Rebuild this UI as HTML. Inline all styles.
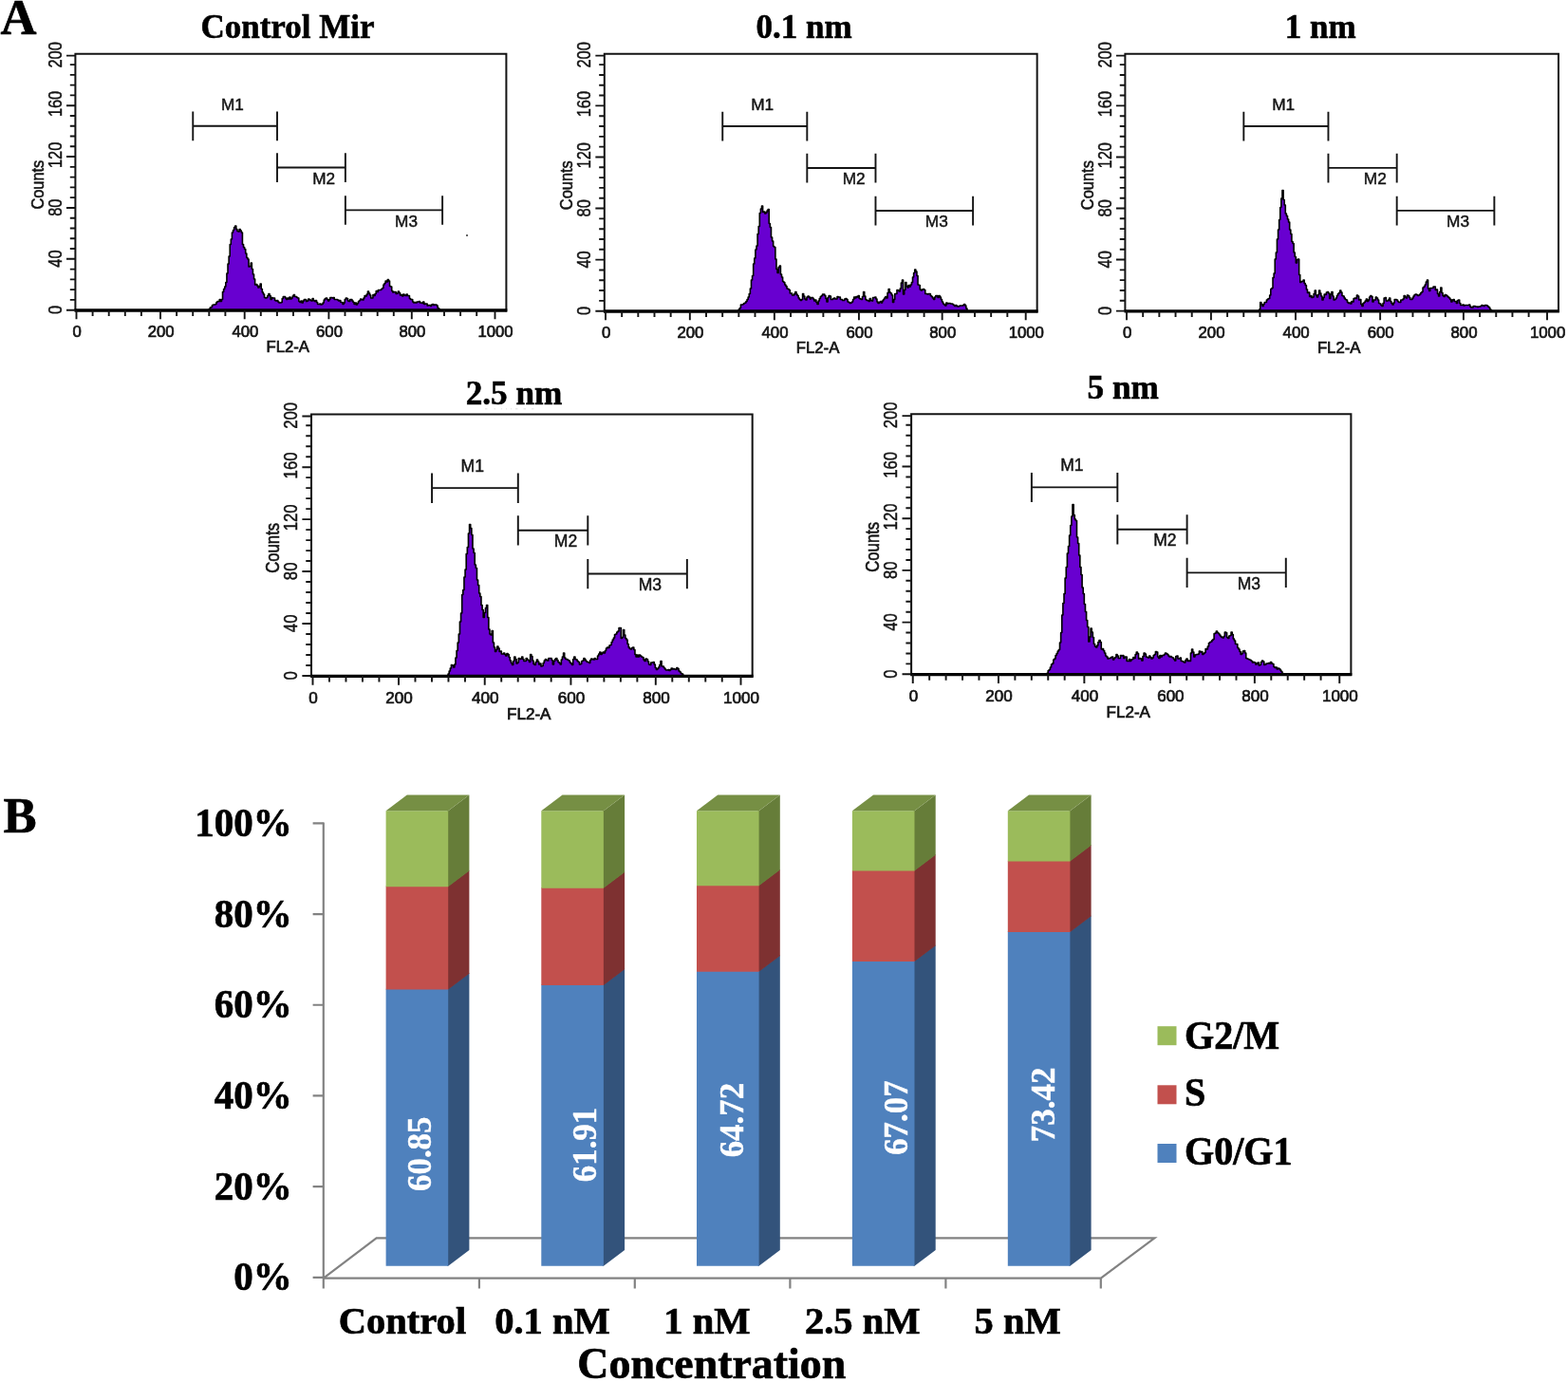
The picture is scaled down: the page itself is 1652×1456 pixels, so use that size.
<!DOCTYPE html>
<html lang="en"><head><meta charset="utf-8">
<title>Cell cycle analysis</title>
<style>html,body{margin:0;padding:0;background:#fff}body{width:1652px;height:1456px;overflow:hidden}svg{display:block}text{white-space:pre}</style>
</head><body>
<svg width="1652" height="1456" viewBox="0 0 1652 1456">
<rect width="1652" height="1456" fill="#fff"/>
<text x="0.4" y="35.6" font-family="'Liberation Serif','DejaVu Serif',serif" font-weight="700" font-size="52.6" fill="#000" stroke="#000" stroke-width="0.7">A</text>
<text x="3.6" y="876.9" font-family="'Liberation Serif','DejaVu Serif',serif" font-weight="700" font-size="52.6" fill="#000" stroke="#000" stroke-width="0.7">B</text>
<g class="plot">
<text x="303" y="39.8" text-anchor="middle" font-family="'Liberation Serif','DejaVu Serif',serif" font-weight="700" font-size="35" fill="#000" stroke="#000" stroke-width="0.6">Control Mir</text>
<g>
<path d="M220.23,326.7V325.5H221.33V324H222.43V323.5H223.53V321.5H224.63V321H225.73V321H226.83V320.5H227.93V318.5H229.03V317.5H230.13V317.5H231.23V315.5H232.33V317.5H233.43V315.5H234.53V307.5H235.63V304.5H236.73V302H237.83V297.5H238.93V288H240.03V278H241.13V270H242.23V257.5H243.33V252H244.43V245H245.53V242.5H246.63V239.5H247.73V238H248.83V241.5H249.93V243.5H251.03V244H252.13V241.5H253.23V243H254.33V245H255.43V257.5H256.53V260.5H257.63V262.5H258.73V267H259.83V271.5H260.93V273H262.03V281H263.13V280.5H264.23V277H265.33V283.5H266.43V289H267.53V294H268.63V300H269.73V299.5H270.83V301H271.93V303H273.03V301.5H274.13V299H275.23V304.5H276.33V308H277.43V310H278.53V313.5H279.63V314H280.73V313.5H281.83V311.5H282.93V309.5H284.03V311.5H285.13V315.5H286.23V313.5H287.33V314H288.43V314H289.53V316.5H290.63V317H291.73V316.5H292.83V318H293.93V319H295.03V319H296.13V318.5H297.23V314.5H298.33V312.5H299.43V312.5H300.53V314H301.63V315.5H302.73V314H303.83V315H304.93V313H306.03V315H307.13V314H308.23V312H309.33V310.5H310.43V312.5H311.53V312.5H312.63V313.5H313.73V314H314.83V317.5H315.93V318.5H317.03V317H318.13V319H319.23V317H320.33V315.5H321.43V315.5H322.53V317.5H323.63V317H324.73V315H325.83V315.5H326.93V316.5H328.03V317H329.13V314.5H330.23V316.5H331.33V317.5H332.43V316.5H333.53V318.5H334.63V320.5H335.73V320.5H336.83V320H337.93V321H339.03V320.5H340.13V319H341.23V316H342.33V314.5H343.43V314H344.53V315.5H345.63V317H346.73V315.5H347.83V313.5H348.93V313.5H350.03V314H351.13V313.5H352.23V315.5H353.33V315.5H354.43V315.5H355.53V316H356.63V317H357.73V316.5H358.83V318.5H359.93V318.5H361.03V320.5H362.13V319H363.23V315.5H364.33V314H365.43V314.5H366.53V317H367.63V317.5H368.73V315.5H369.83V315.5H370.93V317H372.03V318.5H373.13V320.5H374.23V319H375.33V321H376.43V319.5H377.53V317.5H378.63V316.5H379.73V315H380.83V315.5H381.93V316H383.03V314H384.13V311.5H385.23V312H386.33V310H387.43V307H388.53V309H389.63V311H390.73V314H391.83V314H392.93V310.5H394.03V311.5H395.13V309.5H396.23V306.5H397.33V307.5H398.43V305.5H399.53V305.5H400.63V305.5H401.73V304.5H402.83V303.5H403.93V300H405.03V298.5H406.13V296H407.23V297H408.33V294.5H409.43V296H410.53V301.5H411.63V302H412.73V306.5H413.83V308H414.93V307.5H416.03V307.5H417.13V309.5H418.23V309H419.33V307H420.43V308.5H421.53V311H422.63V310.5H423.73V312H424.83V310H425.93V311H427.03V311.5H428.13V310H429.23V311.5H430.33V311.5H431.43V314.5H432.53V315.5H433.63V315.5H434.73V318H435.83V319H436.93V318.5H438.03V319H439.13V318H440.23V318H441.33V317.5H442.43V319H443.53V319H444.63V319.5H445.73V318H446.83V320.5H447.93V320H449.03V320H450.13V322H451.23V321.5H452.33V321.5H453.43V322.5H454.53V321H455.63V320.5H456.73V321.5H457.83V321H458.93V321H460.03V322H461.13V324.5H462.23V325.5H463.33V325.7H463.38V326.7Z" fill="#6800d0" stroke="#000" stroke-width="1.6" stroke-linejoin="round"/>
<path d="M79.4,326.7 L79.4,56.7 L533.41,56.7 L533.41,328.2" fill="none" stroke="#141414" stroke-width="2"/>
<line x1="78.5" y1="327" x2="534.31" y2="327" stroke="#000" stroke-width="3.3"/>
<path d="M70,326.7 H79.4 M73.8,315.92 H79.4 M73.8,305.15 H79.4 M73.8,294.37 H79.4 M73.8,283.6 H79.4 M70,272.82 H79.4 M73.8,262.04 H79.4 M73.8,251.27 H79.4 M73.8,240.49 H79.4 M73.8,229.72 H79.4 M70,218.94 H79.4 M73.8,208.16 H79.4 M73.8,197.39 H79.4 M73.8,186.61 H79.4 M73.8,175.84 H79.4 M70,165.06 H79.4 M73.8,154.28 H79.4 M73.8,143.51 H79.4 M73.8,132.73 H79.4 M73.8,121.96 H79.4 M70,111.18 H79.4 M73.8,100.4 H79.4 M73.8,89.63 H79.4 M73.8,78.85 H79.4 M73.8,68.08 H79.4 M70,58.6 H79.4 M80.5,326.7 V336.3 M97.6,326.7 V333 M114.7,326.7 V333 M131.8,326.7 V333 M148.9,326.7 V333 M169,326.7 V336.3 M186.1,326.7 V333 M203.2,326.7 V333 M220.3,326.7 V333 M237.4,326.7 V333 M257.7,326.7 V336.3 M274.8,326.7 V333 M291.9,326.7 V333 M309,326.7 V333 M326.1,326.7 V333 M346.4,326.7 V336.3 M363.5,326.7 V333 M380.6,326.7 V333 M397.7,326.7 V333 M414.8,326.7 V333 M433.8,326.7 V336.3 M450.9,326.7 V333 M468,326.7 V333 M485.1,326.7 V333 M502.2,326.7 V333 M521.5,326.7 V336.3" fill="none" stroke="#141414" stroke-width="1.9"/>
<path d="M203.27,117.53 V148.13 M292,117.53 V148.13 M203.27,132.73 H292 M292,161.31 V191.91 M363.89,161.31 V191.91 M292,176.51 H363.89 M363.89,206.16 V236.76 M466.11,206.16 V236.76 M363.89,221.36 H466.11" fill="none" stroke="#141414" stroke-width="1.9"/>
<text x="244.99" y="115.83" text-anchor="middle" font-family="'Liberation Sans','DejaVu Sans',sans-serif" font-size="17.2" fill="#141414" stroke="#141414" stroke-width="0.45">M1</text>
<text x="341.13" y="193.81" text-anchor="middle" font-family="'Liberation Sans','DejaVu Sans',sans-serif" font-size="17.2" fill="#141414" stroke="#141414" stroke-width="0.45">M2</text>
<text x="428.01" y="238.66" text-anchor="middle" font-family="'Liberation Sans','DejaVu Sans',sans-serif" font-size="17.2" fill="#141414" stroke="#141414" stroke-width="0.45">M3</text>
<text x="81.1" y="354.7" text-anchor="middle" font-family="'Liberation Sans','DejaVu Sans',sans-serif" font-size="16.7" fill="#141414" stroke="#141414" stroke-width="0.7">0</text>
<text x="169.6" y="354.7" text-anchor="middle" font-family="'Liberation Sans','DejaVu Sans',sans-serif" font-size="16.7" fill="#141414" stroke="#141414" stroke-width="0.7">200</text>
<text x="258.3" y="354.7" text-anchor="middle" font-family="'Liberation Sans','DejaVu Sans',sans-serif" font-size="16.7" fill="#141414" stroke="#141414" stroke-width="0.7">400</text>
<text x="347" y="354.7" text-anchor="middle" font-family="'Liberation Sans','DejaVu Sans',sans-serif" font-size="16.7" fill="#141414" stroke="#141414" stroke-width="0.7">600</text>
<text x="434.4" y="354.7" text-anchor="middle" font-family="'Liberation Sans','DejaVu Sans',sans-serif" font-size="16.7" fill="#141414" stroke="#141414" stroke-width="0.7">800</text>
<text x="522.1" y="354.7" text-anchor="middle" font-family="'Liberation Sans','DejaVu Sans',sans-serif" font-size="16.7" fill="#141414" stroke="#141414" stroke-width="0.7">1000</text>
<text x="303.21" y="371.3" text-anchor="middle" font-family="'Liberation Sans','DejaVu Sans',sans-serif" font-size="16.7" fill="#141414" stroke="#141414" stroke-width="0.7">FL2-A</text>
<text transform="translate(64.7,326.5) rotate(-90) scale(0.98,1.19)" text-anchor="middle" font-family="'Liberation Sans','DejaVu Sans',sans-serif" font-size="16.7" fill="#141414" stroke="#141414" stroke-width="0.4">0</text>
<text transform="translate(64.7,272.62) rotate(-90) scale(0.98,1.19)" text-anchor="middle" font-family="'Liberation Sans','DejaVu Sans',sans-serif" font-size="16.7" fill="#141414" stroke="#141414" stroke-width="0.4">40</text>
<text transform="translate(64.7,218.74) rotate(-90) scale(0.98,1.19)" text-anchor="middle" font-family="'Liberation Sans','DejaVu Sans',sans-serif" font-size="16.7" fill="#141414" stroke="#141414" stroke-width="0.4">80</text>
<text transform="translate(64.7,163.36) rotate(-90) scale(0.98,1.19)" text-anchor="middle" font-family="'Liberation Sans','DejaVu Sans',sans-serif" font-size="16.7" fill="#141414" stroke="#141414" stroke-width="0.4">120</text>
<text transform="translate(64.7,109.48) rotate(-90) scale(0.98,1.19)" text-anchor="middle" font-family="'Liberation Sans','DejaVu Sans',sans-serif" font-size="16.7" fill="#141414" stroke="#141414" stroke-width="0.4">160</text>
<text transform="translate(64.7,57.9) rotate(-90) scale(0.98,1.19)" text-anchor="middle" font-family="'Liberation Sans','DejaVu Sans',sans-serif" font-size="16.7" fill="#141414" stroke="#141414" stroke-width="0.4">200</text>
<text transform="translate(46,194.69) rotate(-90) scale(0.98,1.14)" text-anchor="middle" font-family="'Liberation Sans','DejaVu Sans',sans-serif" font-size="16.7" fill="#141414" stroke="#141414" stroke-width="0.5">Counts</text>
<circle cx="492" cy="248" r="1" fill="#333"/>
</g></g>
<g class="plot">
<text x="847" y="40" text-anchor="middle" font-family="'Liberation Serif','DejaVu Serif',serif" font-weight="700" font-size="35" fill="#000" stroke="#000" stroke-width="0.6">0.1 nm</text>
<g>
<path d="M778.23,327.7V326H779.33V324.5H780.44V321H781.54V321H782.65V320.5H783.75V319.5H784.86V319H785.96V317.5H787.06V315.5H788.17V313H789.27V309.5H790.38V304H791.48V295H792.58V290.5H793.69V278H794.79V272H795.9V263H797V259H798.11V246.5H799.21V238.5H800.31V224.5H801.42V220H802.52V217H803.63V223.5H804.73V223H805.84V225H806.94V224H808.04V222H809.15V220.5H810.25V235.5H811.36V239.5H812.46V250H813.57V254H814.67V259.5H815.77V260.5H816.88V273H817.98V283.5H819.09V287.5H820.19V281.5H821.3V280H822.4V289H823.5V292H824.61V296.5H825.71V297.5H826.82V300H827.92V301.5H829.02V304H830.13V304.5H831.23V305.5H832.34V309H833.44V309H834.55V311H835.65V311H836.75V309.5H837.86V307.5H838.96V310H840.07V311.5H841.17V314H842.28V315.5H843.38V316.5H844.48V315.5H845.59V309.5H846.69V312H847.8V315H848.9V316H850.01V313H851.11V312H852.21V313H853.32V315H854.42V313.5H855.53V313.5H856.63V315H857.74V317H858.84V316H859.94V318.5H861.05V320.5H862.15V317H863.26V314.5H864.36V312.5H865.46V311.5H866.57V310H867.67V310H868.78V311.5H869.88V314.5H870.99V318H872.09V313.5H873.19V311.5H874.3V312H875.4V315.5H876.51V315.5H877.61V314.5H878.72V314H879.82V315H880.92V315H882.03V312.5H883.13V313H884.24V313H885.34V315.5H886.45V315.5H887.55V316.5H888.65V316.5H889.76V315H890.86V314.5H891.97V315.5H893.07V318H894.18V318.5H895.28V319.5H896.38V319H897.49V318H898.59V315.5H899.7V313H900.8V314H901.9V312.5H903.01V313H904.11V311.5H905.22V314.5H906.32V315H907.43V315.5H908.53V312.5H909.63V307.5H910.74V312H911.84V315.5H912.95V316.5H914.05V316.5H915.16V317.5H916.26V314.5H917.36V316.5H918.47V317H919.57V313.5H920.68V313.5H921.78V313H922.89V315H923.99V318H925.09V319.5H926.2V318.5H927.3V317.5H928.41V319H929.51V317H930.61V315.5H931.72V314H932.82V312.5H933.93V314H935.03V308.5H936.14V304.5H937.24V308H938.34V309H939.45V311H940.55V318.5H941.66V315.5H942.76V309.5H943.87V309.5H944.97V305.5H946.07V306H947.18V307H948.28V304H949.39V298H950.49V295H951.6V310H952.7V305.5H953.8V297.5H954.91V301.5H956.01V303H957.12V300.5H958.22V302H959.33V300H960.43V297.5H961.53V292H962.64V287.5H963.74V284H964.85V286H965.95V290.5H967.05V300H968.16V300.5H969.26V305H970.37V306H971.47V305H972.58V304.5H973.68V305.5H974.78V309.5H975.89V309.5H976.99V310H978.1V309.5H979.2V309.5H980.31V311.5H981.41V312.5H982.51V314H983.62V315.5H984.72V313H985.83V311.5H986.93V311.5H988.04V313.5H989.14V311.5H990.24V313H991.35V315.5H992.45V318H993.56V320H994.66V321H995.77V322H996.87V319H997.97V320H999.08V319.5H1000.18V319.5H1001.29V320H1002.39V320H1003.49V320.5H1004.6V321.5H1005.7V322.5H1006.81V321.5H1007.91V322.5H1009.02V323H1010.12V322.5H1011.22V322H1012.33V322H1013.43V322H1014.54V321.5H1015.64V320.5H1016.75V322H1017.85V325H1018.95V326.7H1019.02V327.7Z" fill="#6800d0" stroke="#000" stroke-width="1.61" stroke-linejoin="round"/>
<path d="M636.8,327.7 L636.8,56.7 L1092.65,56.7 L1092.65,329.21" fill="none" stroke="#141414" stroke-width="2.01"/>
<line x1="635.9" y1="328" x2="1093.56" y2="328" stroke="#000" stroke-width="3.31"/>
<path d="M627.36,327.7 H636.8 M631.18,316.88 H636.8 M631.18,306.07 H636.8 M631.18,295.25 H636.8 M631.18,284.44 H636.8 M627.36,273.62 H636.8 M631.18,262.8 H636.8 M631.18,251.99 H636.8 M631.18,241.17 H636.8 M631.18,230.36 H636.8 M627.36,219.54 H636.8 M631.18,208.72 H636.8 M631.18,197.91 H636.8 M631.18,187.09 H636.8 M631.18,176.28 H636.8 M627.36,165.46 H636.8 M631.18,154.64 H636.8 M631.18,143.83 H636.8 M631.18,133.01 H636.8 M631.18,122.2 H636.8 M627.36,111.38 H636.8 M631.18,100.56 H636.8 M631.18,89.75 H636.8 M631.18,78.93 H636.8 M631.18,68.12 H636.8 M627.36,58.61 H636.8 M638,327.7 V337.34 M655.17,327.7 V334.02 M672.33,327.7 V334.02 M689.5,327.7 V334.02 M706.66,327.7 V334.02 M726.84,327.7 V337.34 M744.01,327.7 V334.02 M761.17,327.7 V334.02 M778.34,327.7 V334.02 M795.5,327.7 V334.02 M815.88,327.7 V337.34 M833.05,327.7 V334.02 M850.21,327.7 V334.02 M867.38,327.7 V334.02 M884.55,327.7 V334.02 M904.93,327.7 V337.34 M922.09,327.7 V334.02 M939.26,327.7 V334.02 M956.42,327.7 V334.02 M973.59,327.7 V334.02 M992.66,327.7 V337.34 M1009.83,327.7 V334.02 M1026.99,327.7 V334.02 M1044.16,327.7 V334.02 M1061.33,327.7 V334.02 M1080.7,327.7 V337.34" fill="none" stroke="#141414" stroke-width="1.91"/>
<path d="M761.25,117.75 V148.47 M850.32,117.75 V148.47 M761.25,133.01 H850.32 M850.32,161.69 V192.41 M922.48,161.69 V192.41 M850.32,176.95 H922.48 M922.48,206.72 V237.43 M1025.1,206.72 V237.43 M922.48,221.97 H1025.1" fill="none" stroke="#141414" stroke-width="1.91"/>
<text x="803.13" y="116.05" text-anchor="middle" font-family="'Liberation Sans','DejaVu Sans',sans-serif" font-size="17.27" fill="#141414" stroke="#141414" stroke-width="0.45">M1</text>
<text x="899.64" y="194.32" text-anchor="middle" font-family="'Liberation Sans','DejaVu Sans',sans-serif" font-size="17.27" fill="#141414" stroke="#141414" stroke-width="0.45">M2</text>
<text x="986.85" y="239.34" text-anchor="middle" font-family="'Liberation Sans','DejaVu Sans',sans-serif" font-size="17.27" fill="#141414" stroke="#141414" stroke-width="0.45">M3</text>
<text x="638.6" y="355.81" text-anchor="middle" font-family="'Liberation Sans','DejaVu Sans',sans-serif" font-size="16.76" fill="#141414" stroke="#141414" stroke-width="0.7">0</text>
<text x="727.44" y="355.81" text-anchor="middle" font-family="'Liberation Sans','DejaVu Sans',sans-serif" font-size="16.76" fill="#141414" stroke="#141414" stroke-width="0.7">200</text>
<text x="816.49" y="355.81" text-anchor="middle" font-family="'Liberation Sans','DejaVu Sans',sans-serif" font-size="16.76" fill="#141414" stroke="#141414" stroke-width="0.7">400</text>
<text x="905.53" y="355.81" text-anchor="middle" font-family="'Liberation Sans','DejaVu Sans',sans-serif" font-size="16.76" fill="#141414" stroke="#141414" stroke-width="0.7">600</text>
<text x="993.26" y="355.81" text-anchor="middle" font-family="'Liberation Sans','DejaVu Sans',sans-serif" font-size="16.76" fill="#141414" stroke="#141414" stroke-width="0.7">800</text>
<text x="1081.3" y="355.81" text-anchor="middle" font-family="'Liberation Sans','DejaVu Sans',sans-serif" font-size="16.76" fill="#141414" stroke="#141414" stroke-width="0.7">1000</text>
<text x="861.56" y="372.47" text-anchor="middle" font-family="'Liberation Sans','DejaVu Sans',sans-serif" font-size="16.76" fill="#141414" stroke="#141414" stroke-width="0.7">FL2-A</text>
<text transform="translate(622.04,327.5) rotate(-90) scale(0.98,1.19)" text-anchor="middle" font-family="'Liberation Sans','DejaVu Sans',sans-serif" font-size="16.76" fill="#141414" stroke="#141414" stroke-width="0.4">0</text>
<text transform="translate(622.04,273.42) rotate(-90) scale(0.98,1.19)" text-anchor="middle" font-family="'Liberation Sans','DejaVu Sans',sans-serif" font-size="16.76" fill="#141414" stroke="#141414" stroke-width="0.4">40</text>
<text transform="translate(622.04,219.34) rotate(-90) scale(0.98,1.19)" text-anchor="middle" font-family="'Liberation Sans','DejaVu Sans',sans-serif" font-size="16.76" fill="#141414" stroke="#141414" stroke-width="0.4">80</text>
<text transform="translate(622.04,163.75) rotate(-90) scale(0.98,1.19)" text-anchor="middle" font-family="'Liberation Sans','DejaVu Sans',sans-serif" font-size="16.76" fill="#141414" stroke="#141414" stroke-width="0.4">120</text>
<text transform="translate(622.04,109.67) rotate(-90) scale(0.98,1.19)" text-anchor="middle" font-family="'Liberation Sans','DejaVu Sans',sans-serif" font-size="16.76" fill="#141414" stroke="#141414" stroke-width="0.4">160</text>
<text transform="translate(622.04,57.9) rotate(-90) scale(0.98,1.19)" text-anchor="middle" font-family="'Liberation Sans','DejaVu Sans',sans-serif" font-size="16.76" fill="#141414" stroke="#141414" stroke-width="0.4">200</text>
<text transform="translate(603.27,195.2) rotate(-90) scale(0.98,1.14)" text-anchor="middle" font-family="'Liberation Sans','DejaVu Sans',sans-serif" font-size="16.76" fill="#141414" stroke="#141414" stroke-width="0.5">Counts</text>
</g></g>
<g class="plot">
<text x="1391.2" y="39.6" text-anchor="middle" font-family="'Liberation Serif','DejaVu Serif',serif" font-weight="700" font-size="35" fill="#000" stroke="#000" stroke-width="0.6">1 nm</text>
<g>
<path d="M1326.66,327.6V326H1327.76V318.5H1328.87V320.5H1329.97V322.5H1331.08V320.5H1332.18V318.5H1333.29V318.5H1334.39V316H1335.5V315H1336.6V314.5H1337.71V311H1338.81V304.5H1339.92V303.5H1341.02V292.5H1342.13V288H1343.23V273H1344.34V266H1345.44V252H1346.55V242H1347.65V231.5H1348.76V218.5H1349.86V209H1350.97V200.5H1352.07V210.5H1353.18V216H1354.28V225H1355.39V227.5H1356.49V231H1357.6V234H1358.7V242H1359.81V246.5H1360.91V254.5H1362.02V256.5H1363.12V266H1364.23V270.5H1365.33V277H1366.44V273.5H1367.54V273H1368.65V289.5H1369.75V297.5H1370.86V296.5H1371.96V296.5H1373.07V295H1374.17V298.5H1375.28V300.5H1376.38V305H1377.49V308.5H1378.59V308H1379.7V312.5H1380.8V311.5H1381.91V313.5H1383.01V313H1384.12V309.5H1385.22V306H1386.33V311H1387.43V313H1388.54V310.5H1389.64V306H1390.75V309H1391.85V312H1392.96V316H1394.06V313.5H1395.17V310H1396.27V310.5H1397.38V308H1398.48V307.5H1399.59V309H1400.69V314.5H1401.8V310H1402.9V307.5H1404.01V312H1405.11V316H1406.22V315.5H1407.32V314H1408.43V311.5H1409.53V309.5H1410.64V308.5H1411.74V306H1412.85V308H1413.95V311.5H1415.06V312H1416.16V314H1417.27V315.5H1418.37V316H1419.48V318.5H1420.58V319.5H1421.68V319H1422.79V320H1423.89V317.5H1425V318H1426.1V314.5H1427.21V314H1428.31V314.5H1429.42V311H1430.52V312H1431.63V316H1432.73V315.5H1433.84V320.5H1434.94V322.5H1436.05V319.5H1437.15V318.5H1438.26V317H1439.36V315H1440.47V317.5H1441.57V316H1442.68V313H1443.78V311.5H1444.89V312.5H1445.99V318H1447.1V316H1448.2V316H1449.31V313H1450.41V314H1451.52V316H1452.62V319.5H1453.73V320H1454.83V321.5H1455.94V322.5H1457.04V319.5H1458.15V314H1459.25V313.5H1460.36V317H1461.46V317H1462.57V316H1463.67V314H1464.78V317.5H1465.88V319.5H1466.99V321H1468.09V319H1469.2V315.5H1470.3V315.5H1471.41V316H1472.51V317.5H1473.62V318.5H1474.72V318.5H1475.83V316H1476.93V316H1478.04V315H1479.14V311.5H1480.25V313H1481.35V314H1482.46V311H1483.56V311.5H1484.67V313.5H1485.77V315.5H1486.88V315.5H1487.98V314H1489.09V312H1490.19V310.5H1491.3V310H1492.4V310.5H1493.51V311.5H1494.61V311H1495.72V310H1496.82V308.5H1497.93V307.5H1499.03V303H1500.14V302H1501.24V300H1502.35V297H1503.45V295H1504.56V304H1505.66V306.5H1506.77V303.5H1507.87V303.5H1508.98V303.5H1510.08V302H1511.19V302H1512.29V305.5H1513.4V305H1514.5V309.5H1515.61V312H1516.71V307.5H1517.82V303H1518.92V308.5H1520.03V311.5H1521.13V312.5H1522.24V310.5H1523.34V311H1524.45V312H1525.55V313H1526.66V314H1527.76V315.5H1528.87V318H1529.97V316H1531.08V315.5H1532.18V317.5H1533.29V317.5H1534.39V319.5H1535.5V316.5H1536.6V316H1537.71V319.5H1538.81V321.5H1539.92V321.5H1541.02V321H1542.13V322H1543.23V321.5H1544.34V321.5H1545.44V321.5H1546.55V321.5H1547.65V321H1548.76V323H1549.86V324H1550.97V324H1552.07V322.5H1553.18V322.5H1554.28V323H1555.39V323H1556.49V323.5H1557.6V323H1558.7V323H1559.81V322.5H1560.91V321.5H1562.02V322H1563.12V322.5H1564.23V321.5H1565.33V321.5H1566.44V322H1567.54V323H1568.65V324H1569.75V326H1570.86V326.6H1571.38V327.6Z" fill="#6800d0" stroke="#000" stroke-width="1.61" stroke-linejoin="round"/>
<path d="M1185.4,327.6 L1185.4,56.7 L1641.96,56.7 L1641.96,329.11" fill="none" stroke="#141414" stroke-width="2.01"/>
<line x1="1184.5" y1="327.9" x2="1642.87" y2="327.9" stroke="#000" stroke-width="3.31"/>
<path d="M1175.96,327.6 H1185.4 M1179.77,316.79 H1185.4 M1179.77,305.98 H1185.4 M1179.77,295.16 H1185.4 M1179.77,284.35 H1185.4 M1175.96,273.54 H1185.4 M1179.77,262.73 H1185.4 M1179.77,251.92 H1185.4 M1179.77,241.1 H1185.4 M1179.77,230.29 H1185.4 M1175.96,219.48 H1185.4 M1179.77,208.67 H1185.4 M1179.77,197.86 H1185.4 M1179.77,187.04 H1185.4 M1179.77,176.23 H1185.4 M1175.96,165.42 H1185.4 M1179.77,154.61 H1185.4 M1179.77,143.8 H1185.4 M1179.77,132.98 H1185.4 M1179.77,122.17 H1185.4 M1175.96,111.36 H1185.4 M1179.77,100.55 H1185.4 M1179.77,89.74 H1185.4 M1179.77,78.92 H1185.4 M1179.77,68.11 H1185.4 M1175.96,58.61 H1185.4 M1187,327.6 V337.24 M1204.18,327.6 V333.93 M1221.36,327.6 V333.93 M1238.53,327.6 V333.93 M1255.71,327.6 V333.93 M1275.9,327.6 V337.24 M1293.08,327.6 V333.93 M1310.26,327.6 V333.93 M1327.43,327.6 V333.93 M1344.61,327.6 V333.93 M1365,327.6 V337.24 M1382.18,327.6 V333.93 M1399.36,327.6 V333.93 M1416.54,327.6 V333.93 M1433.71,327.6 V333.93 M1454.11,327.6 V337.24 M1471.28,327.6 V333.93 M1488.46,327.6 V333.93 M1505.64,327.6 V333.93 M1522.82,327.6 V333.93 M1541.9,327.6 V337.24 M1559.08,327.6 V333.93 M1576.26,327.6 V333.93 M1593.43,327.6 V333.93 M1610.61,327.6 V333.93 M1630,327.6 V337.24" fill="none" stroke="#141414" stroke-width="1.91"/>
<path d="M1310.33,117.72 V148.45 M1399.46,117.72 V148.45 M1310.33,132.98 H1399.46 M1399.46,161.64 V192.38 M1471.67,161.64 V192.38 M1399.46,176.91 H1471.67 M1471.67,206.64 V237.38 M1574.36,206.64 V237.38 M1471.67,221.91 H1574.36" fill="none" stroke="#141414" stroke-width="1.91"/>
<text x="1352.24" y="116.01" text-anchor="middle" font-family="'Liberation Sans','DejaVu Sans',sans-serif" font-size="17.28" fill="#141414" stroke="#141414" stroke-width="0.45">M1</text>
<text x="1448.81" y="194.29" text-anchor="middle" font-family="'Liberation Sans','DejaVu Sans',sans-serif" font-size="17.28" fill="#141414" stroke="#141414" stroke-width="0.45">M2</text>
<text x="1536.08" y="239.29" text-anchor="middle" font-family="'Liberation Sans','DejaVu Sans',sans-serif" font-size="17.28" fill="#141414" stroke="#141414" stroke-width="0.45">M3</text>
<text x="1187.6" y="355.73" text-anchor="middle" font-family="'Liberation Sans','DejaVu Sans',sans-serif" font-size="16.78" fill="#141414" stroke="#141414" stroke-width="0.7">0</text>
<text x="1276.5" y="355.73" text-anchor="middle" font-family="'Liberation Sans','DejaVu Sans',sans-serif" font-size="16.78" fill="#141414" stroke="#141414" stroke-width="0.7">200</text>
<text x="1365.61" y="355.73" text-anchor="middle" font-family="'Liberation Sans','DejaVu Sans',sans-serif" font-size="16.78" fill="#141414" stroke="#141414" stroke-width="0.7">400</text>
<text x="1454.71" y="355.73" text-anchor="middle" font-family="'Liberation Sans','DejaVu Sans',sans-serif" font-size="16.78" fill="#141414" stroke="#141414" stroke-width="0.7">600</text>
<text x="1542.5" y="355.73" text-anchor="middle" font-family="'Liberation Sans','DejaVu Sans',sans-serif" font-size="16.78" fill="#141414" stroke="#141414" stroke-width="0.7">800</text>
<text x="1630.6" y="355.73" text-anchor="middle" font-family="'Liberation Sans','DejaVu Sans',sans-serif" font-size="16.78" fill="#141414" stroke="#141414" stroke-width="0.7">1000</text>
<text x="1410.71" y="372.4" text-anchor="middle" font-family="'Liberation Sans','DejaVu Sans',sans-serif" font-size="16.78" fill="#141414" stroke="#141414" stroke-width="0.7">FL2-A</text>
<text transform="translate(1170.63,327.4) rotate(-90) scale(0.98,1.19)" text-anchor="middle" font-family="'Liberation Sans','DejaVu Sans',sans-serif" font-size="16.78" fill="#141414" stroke="#141414" stroke-width="0.4">0</text>
<text transform="translate(1170.63,273.34) rotate(-90) scale(0.98,1.19)" text-anchor="middle" font-family="'Liberation Sans','DejaVu Sans',sans-serif" font-size="16.78" fill="#141414" stroke="#141414" stroke-width="0.4">40</text>
<text transform="translate(1170.63,219.28) rotate(-90) scale(0.98,1.19)" text-anchor="middle" font-family="'Liberation Sans','DejaVu Sans',sans-serif" font-size="16.78" fill="#141414" stroke="#141414" stroke-width="0.4">80</text>
<text transform="translate(1170.63,163.71) rotate(-90) scale(0.98,1.19)" text-anchor="middle" font-family="'Liberation Sans','DejaVu Sans',sans-serif" font-size="16.78" fill="#141414" stroke="#141414" stroke-width="0.4">120</text>
<text transform="translate(1170.63,109.65) rotate(-90) scale(0.98,1.19)" text-anchor="middle" font-family="'Liberation Sans','DejaVu Sans',sans-serif" font-size="16.78" fill="#141414" stroke="#141414" stroke-width="0.4">160</text>
<text transform="translate(1170.63,57.9) rotate(-90) scale(0.98,1.19)" text-anchor="middle" font-family="'Liberation Sans','DejaVu Sans',sans-serif" font-size="16.78" fill="#141414" stroke="#141414" stroke-width="0.4">200</text>
<text transform="translate(1151.85,195.15) rotate(-90) scale(0.98,1.14)" text-anchor="middle" font-family="'Liberation Sans','DejaVu Sans',sans-serif" font-size="16.78" fill="#141414" stroke="#141414" stroke-width="0.5">Counts</text>
</g></g>
<g class="plot">
<text x="541.5" y="425.7" text-anchor="middle" font-family="'Liberation Serif','DejaVu Serif',serif" font-weight="700" font-size="35.2" fill="#000" stroke="#000" stroke-width="0.6">2.5 nm</text>
<g>
<path d="M472.08,712V710H473.21V707H474.33V704H475.46V700.5H476.58V701H477.71V703H478.83V700H479.96V693H481.08V685.5H482.21V677H483.33V668H484.46V655H485.58V646H486.71V626.5H487.83V621.5H488.96V608H490.08V600H491.21V583.5H492.33V576.5H493.46V562H494.58V552.5H495.71V556.5H496.83V563.5H497.96V578H499.08V582.5H500.21V595H501.33V598.5H502.46V611H503.58V616.5H504.71V625H505.83V628.5H506.96V637.5H508.08V642.5H509.21V650.5H510.33V645.5H511.46V640.5H512.58V637.5H513.71V650.5H514.83V663H515.95V668H517.08V669H518.2V664.5H519.33V677H520.45V682H521.58V686.5H522.7V684.5H523.83V681H524.95V683H526.08V686.5H527.2V686H528.33V689H529.45V689H530.58V688H531.7V689.5H532.83V691H533.95V688.5H535.08V689.5H536.2V692.5H537.33V696H538.45V698.5H539.58V700.5H540.7V696.5H541.83V692H542.95V694.5H544.08V699H545.2V698H546.33V693.5H547.45V694.5H548.58V694H549.7V692H550.83V694.5H551.95V696.5H553.08V696.5H554.2V693.5H555.33V695H556.45V695.5H557.58V697.5H558.7V689.5H559.83V691.5H560.95V696H562.08V699.5H563.2V700.5H564.33V697.5H565.45V695H566.58V697H567.7V700H568.83V699H569.95V702H571.08V701.5H572.2V698.5H573.33V696H574.45V694.5H575.58V695.5H576.7V696H577.83V693.5H578.95V693.5H580.08V693.5H581.2V695.5H582.33V700H583.45V696.5H584.58V694.5H585.7V693.5H586.83V695.5H587.95V697.5H589.08V698.5H590.2V700H591.33V695H592.45V692H593.58V688H594.7V693H595.83V694.5H596.95V694.5H598.08V695.5H599.2V696H600.33V698H601.45V699H602.58V700.5H603.7V694.5H604.83V692H605.95V694.5H607.08V695H608.2V696.5H609.33V697.5H610.45V700H611.58V699.5H612.7V696.5H613.83V696H614.95V693.5H616.07V695H617.2V696.5H618.32V697.5H619.45V697.5H620.57V698.5H621.7V695.5H622.82V694H623.95V694.5H625.07V695H626.2V693.5H627.32V694.5H628.45V694.5H629.57V691H630.7V689H631.82V687H632.95V689.5H634.07V688H635.2V687H636.32V688H637.45V685.5H638.57V683H639.7V682H640.82V682.5H641.95V680H643.07V679.5H644.2V676.5H645.32V674H646.45V672H647.57V668.5H648.7V668H649.82V666H650.95V665H652.07V661.5H653.2V661.5H654.32V672.5H655.45V671.5H656.57V663.5H657.7V669H658.82V672.5H659.95V674H661.07V678.5H662.2V682H663.32V683.5H664.45V684H665.57V682.5H666.7V682H667.82V684.5H668.95V689.5H670.07V692H671.2V690H672.32V692H673.45V690H674.57V691H675.7V692H676.82V692.5H677.95V695H679.07V696.5H680.2V694H681.32V694.5H682.45V697H683.57V700H684.7V700.5H685.82V698H686.95V698H688.07V697.5H689.2V700H690.32V703.5H691.45V705.5H692.57V704.5H693.7V703H694.82V700.5H695.95V696.5H697.07V702H698.2V702H699.32V703.5H700.45V705H701.57V706H702.7V706H703.82V705.5H704.95V706.5H706.07V705.5H707.2V704H708.32V705H709.45V704.5H710.57V705H711.7V705.5H712.82V703.5H713.94V704.5H715.07V707H716.19V708H717.32V709.5H718.44V710H719.57V711H719.96V712Z" fill="#6800d0" stroke="#000" stroke-width="1.64" stroke-linejoin="round"/>
<path d="M328,712 L328,436.59 L792.68,436.59 L792.68,713.53" fill="none" stroke="#141414" stroke-width="2.05"/>
<line x1="327.08" y1="712.31" x2="793.6" y2="712.31" stroke="#000" stroke-width="3.37"/>
<path d="M318.39,712 H328 M322.27,701.01 H328 M322.27,690.02 H328 M322.27,679.02 H328 M322.27,668.03 H328 M318.39,657.04 H328 M322.27,646.05 H328 M322.27,635.06 H328 M322.27,624.06 H328 M322.27,613.07 H328 M318.39,602.08 H328 M322.27,591.09 H328 M322.27,580.1 H328 M322.27,569.1 H328 M322.27,558.11 H328 M318.39,547.12 H328 M322.27,536.13 H328 M322.27,525.14 H328 M322.27,514.14 H328 M322.27,503.15 H328 M318.39,492.16 H328 M322.27,481.17 H328 M322.27,470.18 H328 M322.27,459.18 H328 M322.27,448.19 H328 M318.39,438.53 H328 M329.5,712 V721.82 M346.99,712 V718.44 M364.48,712 V718.44 M381.96,712 V718.44 M399.45,712 V718.44 M420.01,712 V721.82 M437.49,712 V718.44 M454.98,712 V718.44 M472.47,712 V718.44 M489.96,712 V718.44 M510.72,712 V721.82 M528.21,712 V718.44 M545.69,712 V718.44 M563.18,712 V718.44 M580.67,712 V718.44 M601.43,712 V721.82 M618.92,712 V718.44 M636.4,712 V718.44 M653.89,712 V718.44 M671.38,712 V718.44 M690.81,712 V721.82 M708.3,712 V718.44 M725.79,712 V718.44 M743.27,712 V718.44 M760.76,712 V718.44 M780.5,712 V721.82" fill="none" stroke="#141414" stroke-width="1.94"/>
<path d="M455.06,498.6 V529.89 M545.8,498.6 V529.89 M455.06,514.14 H545.8 M545.8,543.25 V574.55 M619.31,543.25 V574.55 M545.8,558.8 H619.31 M619.31,589.01 V620.3 M723.85,589.01 V620.3 M619.31,604.55 H723.85" fill="none" stroke="#141414" stroke-width="1.94"/>
<text x="497.72" y="496.86" text-anchor="middle" font-family="'Liberation Sans','DejaVu Sans',sans-serif" font-size="17.59" fill="#141414" stroke="#141414" stroke-width="0.46">M1</text>
<text x="596.04" y="576.49" text-anchor="middle" font-family="'Liberation Sans','DejaVu Sans',sans-serif" font-size="17.59" fill="#141414" stroke="#141414" stroke-width="0.46">M2</text>
<text x="684.89" y="622.25" text-anchor="middle" font-family="'Liberation Sans','DejaVu Sans',sans-serif" font-size="17.59" fill="#141414" stroke="#141414" stroke-width="0.46">M3</text>
<text x="330.11" y="740.63" text-anchor="middle" font-family="'Liberation Sans','DejaVu Sans',sans-serif" font-size="17.08" fill="#141414" stroke="#141414" stroke-width="0.72">0</text>
<text x="420.62" y="740.63" text-anchor="middle" font-family="'Liberation Sans','DejaVu Sans',sans-serif" font-size="17.08" fill="#141414" stroke="#141414" stroke-width="0.72">200</text>
<text x="511.33" y="740.63" text-anchor="middle" font-family="'Liberation Sans','DejaVu Sans',sans-serif" font-size="17.08" fill="#141414" stroke="#141414" stroke-width="0.72">400</text>
<text x="602.04" y="740.63" text-anchor="middle" font-family="'Liberation Sans','DejaVu Sans',sans-serif" font-size="17.08" fill="#141414" stroke="#141414" stroke-width="0.72">600</text>
<text x="691.42" y="740.63" text-anchor="middle" font-family="'Liberation Sans','DejaVu Sans',sans-serif" font-size="17.08" fill="#141414" stroke="#141414" stroke-width="0.72">800</text>
<text x="781.11" y="740.63" text-anchor="middle" font-family="'Liberation Sans','DejaVu Sans',sans-serif" font-size="17.08" fill="#141414" stroke="#141414" stroke-width="0.72">1000</text>
<text x="557.25" y="757.61" text-anchor="middle" font-family="'Liberation Sans','DejaVu Sans',sans-serif" font-size="17.08" fill="#141414" stroke="#141414" stroke-width="0.72">FL2-A</text>
<text transform="translate(312.97,711.8) rotate(-90) scale(0.98,1.19)" text-anchor="middle" font-family="'Liberation Sans','DejaVu Sans',sans-serif" font-size="17.08" fill="#141414" stroke="#141414" stroke-width="0.41">0</text>
<text transform="translate(312.97,656.84) rotate(-90) scale(0.98,1.19)" text-anchor="middle" font-family="'Liberation Sans','DejaVu Sans',sans-serif" font-size="17.08" fill="#141414" stroke="#141414" stroke-width="0.41">40</text>
<text transform="translate(312.97,601.88) rotate(-90) scale(0.98,1.19)" text-anchor="middle" font-family="'Liberation Sans','DejaVu Sans',sans-serif" font-size="17.08" fill="#141414" stroke="#141414" stroke-width="0.41">80</text>
<text transform="translate(312.97,545.38) rotate(-90) scale(0.98,1.19)" text-anchor="middle" font-family="'Liberation Sans','DejaVu Sans',sans-serif" font-size="17.08" fill="#141414" stroke="#141414" stroke-width="0.41">120</text>
<text transform="translate(312.97,490.42) rotate(-90) scale(0.98,1.19)" text-anchor="middle" font-family="'Liberation Sans','DejaVu Sans',sans-serif" font-size="17.08" fill="#141414" stroke="#141414" stroke-width="0.41">160</text>
<text transform="translate(312.97,437.81) rotate(-90) scale(0.98,1.19)" text-anchor="middle" font-family="'Liberation Sans','DejaVu Sans',sans-serif" font-size="17.08" fill="#141414" stroke="#141414" stroke-width="0.41">200</text>
<text transform="translate(293.84,577.35) rotate(-90) scale(0.98,1.14)" text-anchor="middle" font-family="'Liberation Sans','DejaVu Sans',sans-serif" font-size="17.08" fill="#141414" stroke="#141414" stroke-width="0.51">Counts</text>
<path d="M511,430.8 H577" fill="none" stroke="#dedede" stroke-width="1" stroke-dasharray="2.5 7 1.5 6 1 4 1 4 1 4 2.5 6 2.5 6 2.5 100"/>
</g></g>
<g class="plot">
<text x="1183.2" y="420" text-anchor="middle" font-family="'Liberation Serif','DejaVu Serif',serif" font-weight="700" font-size="35.2" fill="#000" stroke="#000" stroke-width="0.6">5 nm</text>
<g>
<path d="M1103.08,710.3V709.3H1104.2V706.5H1105.32V705.5H1106.45V703H1107.57V700H1108.69V699H1109.81V695H1110.93V694H1112.05V690.5H1113.17V688.5H1114.29V686H1115.42V684.5H1116.54V677H1117.66V666.5H1118.78V648H1119.9V635.5H1121.02V625.5H1122.14V609H1123.26V597.5H1124.38V583H1125.51V575.5H1126.63V564H1127.75V553.5H1128.87V544H1129.99V531.5H1131.11V542.5H1132.23V547H1133.35V548.5H1134.48V566H1135.6V572.5H1136.72V585H1137.84V597.5H1138.96V605.5H1140.08V619H1141.2V625.5H1142.32V636.5H1143.45V644.5H1144.57V653.5H1145.69V660.5H1146.81V676H1147.93V671H1149.05V662H1150.17V666H1151.29V671.5H1152.42V678.5H1153.54V681H1154.66V682H1155.78V680H1156.9V676.5H1158.02V674.5H1159.14V676.5H1160.26V684H1161.38V683.5H1162.51V685.5H1163.63V688H1164.75V691H1165.87V692H1166.99V694H1168.11V693.5H1169.23V693.5H1170.35V692.5H1171.48V692H1172.6V695H1173.72V693.5H1174.84V692.5H1175.96V689.5H1177.08V691H1178.2V693.5H1179.32V693.5H1180.45V690.5H1181.57V691H1182.69V690.5H1183.81V693.5H1184.93V692H1186.05V692H1187.17V696.5H1188.29V696.5H1189.41V694.5H1190.54V696.5H1191.66V695H1192.78V694.5H1193.9V692.5H1195.02V693.5H1196.14V689.5H1197.26V687H1198.38V688.5H1199.51V694H1200.63V693.5H1201.75V694H1202.87V696H1203.99V691.5H1205.11V688H1206.23V689H1207.35V692H1208.48V692.5H1209.6V693H1210.72V691H1211.84V692.5H1212.96V694H1214.08V693H1215.2V690.5H1216.32V689.5H1217.44V686.5H1218.57V687H1219.69V692H1220.81V693.5H1221.93V690.5H1223.05V692H1224.17V690.5H1225.29V690.5H1226.41V689.5H1227.54V688H1228.66V688.5H1229.78V689.5H1230.9V691H1232.02V692H1233.14V691.5H1234.26V692.5H1235.38V693H1236.51V694.5H1237.63V696H1238.75V691.5H1239.87V691H1240.99V694H1242.11V694H1243.23V693H1244.35V696.5H1245.47V696.5H1246.6V697.5H1247.72V698H1248.84V695.5H1249.96V694H1251.08V696.5H1252.2V696H1253.32V696.5H1254.44V688H1255.57V684H1256.69V687H1257.81V692H1258.93V690H1260.05V689.5H1261.17V689.5H1262.29V689H1263.41V686H1264.54V687H1265.66V686.5H1266.78V689.5H1267.9V688.5H1269.02V687.5H1270.14V683.5H1271.26V684H1272.38V681H1273.5V677.5H1274.63V676.5H1275.75V676H1276.87V674.5H1277.99V673.5H1279.11V667.5H1280.23V667H1281.35V665H1282.47V666.5H1283.6V667.5H1284.72V669H1285.84V670.5H1286.96V671.5H1288.08V672H1289.2V670.5H1290.32V666H1291.44V666.5H1292.57V671.5H1293.69V672.5H1294.81V670H1295.93V669.5H1297.05V666H1298.17V668.5H1299.29V673H1300.41V675H1301.53V678.5H1302.66V678.5H1303.78V682.5H1304.9V684H1306.02V686.5H1307.14V689.5H1308.26V688.5H1309.38V686H1310.5V685.5H1311.63V688H1312.75V693.5H1313.87V694H1314.99V694.5H1316.11V695H1317.23V695.5H1318.35V696.5H1319.47V698H1320.6V697.5H1321.72V698H1322.84V700H1323.96V699H1325.08V698H1326.2V701H1327.32V700.5H1328.44V697.5H1329.56V696H1330.69V697H1331.81V700.5H1332.93V700H1334.05V699H1335.17V699H1336.29V698.5H1337.41V699H1338.53V697.5H1339.66V699H1340.78V699.5H1341.9V702.5H1343.02V703.5H1344.14V703H1345.26V705H1346.38V704H1347.5V704.5H1348.63V706H1349.75V707.5H1350.87V709.3H1351.74V710.3Z" fill="#6800d0" stroke="#000" stroke-width="1.63" stroke-linejoin="round"/>
<path d="M960.1,710.3 L960.1,436.19 L1423.39,436.19 L1423.39,711.83" fill="none" stroke="#141414" stroke-width="2.04"/>
<line x1="959.18" y1="710.61" x2="1424.3" y2="710.61" stroke="#000" stroke-width="3.36"/>
<path d="M950.52,710.3 H960.1 M954.39,699.36 H960.1 M954.39,688.42 H960.1 M954.39,677.48 H960.1 M954.39,666.54 H960.1 M950.52,655.6 H960.1 M954.39,644.66 H960.1 M954.39,633.72 H960.1 M954.39,622.78 H960.1 M954.39,611.84 H960.1 M950.52,600.9 H960.1 M954.39,589.96 H960.1 M954.39,579.02 H960.1 M954.39,568.08 H960.1 M954.39,557.14 H960.1 M950.52,546.2 H960.1 M954.39,535.26 H960.1 M954.39,524.32 H960.1 M954.39,513.38 H960.1 M954.39,502.44 H960.1 M950.52,491.5 H960.1 M954.39,480.56 H960.1 M954.39,469.62 H960.1 M954.39,458.68 H960.1 M954.39,447.74 H960.1 M950.52,438.13 H960.1 M961.75,710.3 V720.09 M979.18,710.3 V716.72 M996.61,710.3 V716.72 M1014.04,710.3 V716.72 M1031.47,710.3 V716.72 M1051.96,710.3 V720.09 M1069.39,710.3 V716.72 M1086.81,710.3 V716.72 M1104.24,710.3 V716.72 M1121.67,710.3 V716.72 M1142.37,710.3 V720.09 M1159.8,710.3 V716.72 M1177.22,710.3 V716.72 M1194.65,710.3 V716.72 M1212.08,710.3 V716.72 M1232.78,710.3 V720.09 M1250.2,710.3 V716.72 M1267.63,710.3 V716.72 M1285.06,710.3 V716.72 M1302.49,710.3 V716.72 M1321.86,710.3 V720.09 M1339.29,710.3 V716.72 M1356.72,710.3 V716.72 M1374.15,710.3 V716.72 M1391.58,710.3 V716.72 M1411.25,710.3 V720.09" fill="none" stroke="#141414" stroke-width="1.94"/>
<path d="M1086.89,497.89 V529.08 M1177.33,497.89 V529.08 M1086.89,513.38 H1177.33 M1177.33,542.33 V573.52 M1250.6,542.33 V573.52 M1177.33,557.82 H1250.6 M1250.6,587.87 V619.06 M1354.79,587.87 V619.06 M1250.6,603.36 H1354.79" fill="none" stroke="#141414" stroke-width="1.94"/>
<text x="1129.41" y="496.15" text-anchor="middle" font-family="'Liberation Sans','DejaVu Sans',sans-serif" font-size="17.53" fill="#141414" stroke="#141414" stroke-width="0.46">M1</text>
<text x="1227.4" y="575.46" text-anchor="middle" font-family="'Liberation Sans','DejaVu Sans',sans-serif" font-size="17.53" fill="#141414" stroke="#141414" stroke-width="0.46">M2</text>
<text x="1315.96" y="620.99" text-anchor="middle" font-family="'Liberation Sans','DejaVu Sans',sans-serif" font-size="17.53" fill="#141414" stroke="#141414" stroke-width="0.46">M3</text>
<text x="962.36" y="738.84" text-anchor="middle" font-family="'Liberation Sans','DejaVu Sans',sans-serif" font-size="17.02" fill="#141414" stroke="#141414" stroke-width="0.71">0</text>
<text x="1052.57" y="738.84" text-anchor="middle" font-family="'Liberation Sans','DejaVu Sans',sans-serif" font-size="17.02" fill="#141414" stroke="#141414" stroke-width="0.71">200</text>
<text x="1142.98" y="738.84" text-anchor="middle" font-family="'Liberation Sans','DejaVu Sans',sans-serif" font-size="17.02" fill="#141414" stroke="#141414" stroke-width="0.71">400</text>
<text x="1233.39" y="738.84" text-anchor="middle" font-family="'Liberation Sans','DejaVu Sans',sans-serif" font-size="17.02" fill="#141414" stroke="#141414" stroke-width="0.71">600</text>
<text x="1322.47" y="738.84" text-anchor="middle" font-family="'Liberation Sans','DejaVu Sans',sans-serif" font-size="17.02" fill="#141414" stroke="#141414" stroke-width="0.71">800</text>
<text x="1411.86" y="738.84" text-anchor="middle" font-family="'Liberation Sans','DejaVu Sans',sans-serif" font-size="17.02" fill="#141414" stroke="#141414" stroke-width="0.71">1000</text>
<text x="1188.75" y="755.76" text-anchor="middle" font-family="'Liberation Sans','DejaVu Sans',sans-serif" font-size="17.02" fill="#141414" stroke="#141414" stroke-width="0.71">FL2-A</text>
<text transform="translate(945.12,710.1) rotate(-90) scale(0.98,1.19)" text-anchor="middle" font-family="'Liberation Sans','DejaVu Sans',sans-serif" font-size="17.02" fill="#141414" stroke="#141414" stroke-width="0.41">0</text>
<text transform="translate(945.12,655.4) rotate(-90) scale(0.98,1.19)" text-anchor="middle" font-family="'Liberation Sans','DejaVu Sans',sans-serif" font-size="17.02" fill="#141414" stroke="#141414" stroke-width="0.41">40</text>
<text transform="translate(945.12,600.7) rotate(-90) scale(0.98,1.19)" text-anchor="middle" font-family="'Liberation Sans','DejaVu Sans',sans-serif" font-size="17.02" fill="#141414" stroke="#141414" stroke-width="0.41">80</text>
<text transform="translate(945.12,544.47) rotate(-90) scale(0.98,1.19)" text-anchor="middle" font-family="'Liberation Sans','DejaVu Sans',sans-serif" font-size="17.02" fill="#141414" stroke="#141414" stroke-width="0.41">120</text>
<text transform="translate(945.12,489.77) rotate(-90) scale(0.98,1.19)" text-anchor="middle" font-family="'Liberation Sans','DejaVu Sans',sans-serif" font-size="17.02" fill="#141414" stroke="#141414" stroke-width="0.41">160</text>
<text transform="translate(945.12,437.41) rotate(-90) scale(0.98,1.19)" text-anchor="middle" font-family="'Liberation Sans','DejaVu Sans',sans-serif" font-size="17.02" fill="#141414" stroke="#141414" stroke-width="0.41">200</text>
<text transform="translate(926.06,576.28) rotate(-90) scale(0.98,1.14)" text-anchor="middle" font-family="'Liberation Sans','DejaVu Sans',sans-serif" font-size="17.02" fill="#141414" stroke="#141414" stroke-width="0.51">Counts</text>
</g></g>
<g class="bars">
<path d="M340.8,866.4 V1346.7 M340.8,1346.7 H1159.8 M340.8,1346.7 L396.6,1304.4 H1216.4 L1159.8,1346.7" fill="none" stroke="#828282" stroke-width="2.2" stroke-linejoin="miter"/>
<path d="M329.6,867.4 H340.8 M329.6,963.08 H340.8 M329.6,1058.76 H340.8 M329.6,1154.44 H340.8 M329.6,1250.12 H340.8 M329.6,1345.8 H340.8 M340.8,1346.7 V1357.6 M504.9,1346.7 V1357.6 M668.8,1346.7 V1357.6 M832.4,1346.7 V1357.6 M996.4,1346.7 V1357.6 M1159.8,1346.7 V1357.6" fill="none" stroke="#828282" stroke-width="2.2"/>
<path d="M471.2,1041.8 L472.2,1041.8 L494.4,1025 L494.4,1316.95 L472.2,1333.75 L471.2,1333.75 Z" fill="#33537b"/>
<path d="M471.2,933.55 L472.2,933.55 L494.4,916.75 L494.4,1025.7 L472.2,1042.5 L471.2,1042.5 Z" fill="#7e3131"/>
<path d="M471.2,854.25 L472.2,854.25 L494.4,837.45 L494.4,917.45 L472.2,934.25 L471.2,934.25 Z" fill="#667d39"/>
<rect x="406.6" y="1041.8" width="65.6" height="291.95" fill="#4f81bd"/>
<rect x="406.6" y="933.55" width="65.6" height="108.95" fill="#c2504d"/>
<rect x="406.6" y="854.25" width="65.6" height="80" fill="#9bbb5b"/>
<path d="M406.6,854.25 L428.8,837.45 L494.4,837.45 L472.2,854.25 Z" fill="#768f44"/>
<text transform="translate(454,1215.75) rotate(-90)" text-anchor="middle" font-family="'Liberation Serif','DejaVu Serif',serif" font-weight="700" font-size="34.9" fill="#fff" stroke="#fff" stroke-width="0.4">60.85</text>
<path d="M634.9,1037.3 L635.9,1037.3 L658.1,1020.5 L658.1,1316.95 L635.9,1333.75 L634.9,1333.75 Z" fill="#33537b"/>
<path d="M634.9,935.05 L635.9,935.05 L658.1,918.25 L658.1,1021.2 L635.9,1038 L634.9,1038 Z" fill="#7e3131"/>
<path d="M634.9,854.25 L635.9,854.25 L658.1,837.45 L658.1,918.95 L635.9,935.75 L634.9,935.75 Z" fill="#667d39"/>
<rect x="570.3" y="1037.3" width="65.6" height="296.45" fill="#4f81bd"/>
<rect x="570.3" y="935.05" width="65.6" height="102.95" fill="#c2504d"/>
<rect x="570.3" y="854.25" width="65.6" height="81.5" fill="#9bbb5b"/>
<path d="M570.3,854.25 L592.5,837.45 L658.1,837.45 L635.9,854.25 Z" fill="#768f44"/>
<text transform="translate(627.6,1206) rotate(-90)" text-anchor="middle" font-family="'Liberation Serif','DejaVu Serif',serif" font-weight="700" font-size="34.9" fill="#fff" stroke="#fff" stroke-width="0.4">61.91</text>
<path d="M798.6,1023.05 L799.6,1023.05 L821.8,1006.25 L821.8,1316.95 L799.6,1333.75 L798.6,1333.75 Z" fill="#33537b"/>
<path d="M798.6,932.55 L799.6,932.55 L821.8,915.75 L821.8,1006.95 L799.6,1023.75 L798.6,1023.75 Z" fill="#7e3131"/>
<path d="M798.6,854.25 L799.6,854.25 L821.8,837.45 L821.8,916.45 L799.6,933.25 L798.6,933.25 Z" fill="#667d39"/>
<rect x="734" y="1023.05" width="65.6" height="310.7" fill="#4f81bd"/>
<rect x="734" y="932.55" width="65.6" height="91.2" fill="#c2504d"/>
<rect x="734" y="854.25" width="65.6" height="79" fill="#9bbb5b"/>
<path d="M734,854.25 L756.2,837.45 L821.8,837.45 L799.6,854.25 Z" fill="#768f44"/>
<text transform="translate(783.4,1180.1) rotate(-90)" text-anchor="middle" font-family="'Liberation Serif','DejaVu Serif',serif" font-weight="700" font-size="34.9" fill="#fff" stroke="#fff" stroke-width="0.4">64.72</text>
<path d="M962.5,1012.3 L963.5,1012.3 L985.7,995.5 L985.7,1316.95 L963.5,1333.75 L962.5,1333.75 Z" fill="#33537b"/>
<path d="M962.5,916.8 L963.5,916.8 L985.7,900 L985.7,996.2 L963.5,1013 L962.5,1013 Z" fill="#7e3131"/>
<path d="M962.5,854.25 L963.5,854.25 L985.7,837.45 L985.7,900.7 L963.5,917.5 L962.5,917.5 Z" fill="#667d39"/>
<rect x="897.9" y="1012.3" width="65.6" height="321.45" fill="#4f81bd"/>
<rect x="897.9" y="916.8" width="65.6" height="96.2" fill="#c2504d"/>
<rect x="897.9" y="854.25" width="65.6" height="63.25" fill="#9bbb5b"/>
<path d="M897.9,854.25 L920.1,837.45 L985.7,837.45 L963.5,854.25 Z" fill="#768f44"/>
<text transform="translate(955.8,1177.6) rotate(-90)" text-anchor="middle" font-family="'Liberation Serif','DejaVu Serif',serif" font-weight="700" font-size="34.9" fill="#fff" stroke="#fff" stroke-width="0.4">67.07</text>
<path d="M1126.4,981.3 L1127.4,981.3 L1149.6,964.5 L1149.6,1316.95 L1127.4,1333.75 L1126.4,1333.75 Z" fill="#33537b"/>
<path d="M1126.4,906.8 L1127.4,906.8 L1149.6,890 L1149.6,965.2 L1127.4,982 L1126.4,982 Z" fill="#7e3131"/>
<path d="M1126.4,854.25 L1127.4,854.25 L1149.6,837.45 L1149.6,890.7 L1127.4,907.5 L1126.4,907.5 Z" fill="#667d39"/>
<rect x="1061.8" y="981.3" width="65.6" height="352.45" fill="#4f81bd"/>
<rect x="1061.8" y="906.8" width="65.6" height="75.2" fill="#c2504d"/>
<rect x="1061.8" y="854.25" width="65.6" height="53.25" fill="#9bbb5b"/>
<path d="M1061.8,854.25 L1084,837.45 L1149.6,837.45 L1127.4,854.25 Z" fill="#768f44"/>
<text transform="translate(1110.6,1163.9) rotate(-90)" text-anchor="middle" font-family="'Liberation Serif','DejaVu Serif',serif" font-weight="700" font-size="34.9" fill="#fff" stroke="#fff" stroke-width="0.4">73.42</text>
<text transform="translate(307.8,880.9) scale(1,1.05)" text-anchor="end" font-family="'Liberation Serif','DejaVu Serif',serif" font-weight="700" font-size="41.0" fill="#000" stroke="#000" stroke-width="0.7">100%</text>
<text transform="translate(307.8,976.58) scale(1,1.05)" text-anchor="end" font-family="'Liberation Serif','DejaVu Serif',serif" font-weight="700" font-size="41.0" fill="#000" stroke="#000" stroke-width="0.7">80%</text>
<text transform="translate(307.8,1072.26) scale(1,1.05)" text-anchor="end" font-family="'Liberation Serif','DejaVu Serif',serif" font-weight="700" font-size="41.0" fill="#000" stroke="#000" stroke-width="0.7">60%</text>
<text transform="translate(307.8,1167.94) scale(1,1.05)" text-anchor="end" font-family="'Liberation Serif','DejaVu Serif',serif" font-weight="700" font-size="41.0" fill="#000" stroke="#000" stroke-width="0.7">40%</text>
<text transform="translate(307.8,1263.62) scale(1,1.05)" text-anchor="end" font-family="'Liberation Serif','DejaVu Serif',serif" font-weight="700" font-size="41.0" fill="#000" stroke="#000" stroke-width="0.7">20%</text>
<text transform="translate(307.8,1359.3) scale(1,1.05)" text-anchor="end" font-family="'Liberation Serif','DejaVu Serif',serif" font-weight="700" font-size="41.0" fill="#000" stroke="#000" stroke-width="0.7">0%</text>
<text x="423.9" y="1405" text-anchor="middle" font-family="'Liberation Serif','DejaVu Serif',serif" font-weight="700" font-size="40.6" fill="#000" stroke="#000" stroke-width="0.7">Control</text>
<text x="582" y="1405" text-anchor="middle" font-family="'Liberation Serif','DejaVu Serif',serif" font-weight="700" font-size="40.6" fill="#000" stroke="#000" stroke-width="0.7">0.1 nM</text>
<text x="745" y="1405" text-anchor="middle" font-family="'Liberation Serif','DejaVu Serif',serif" font-weight="700" font-size="40.6" fill="#000" stroke="#000" stroke-width="0.7">1 nM</text>
<text x="908.8" y="1405" text-anchor="middle" font-family="'Liberation Serif','DejaVu Serif',serif" font-weight="700" font-size="40.6" fill="#000" stroke="#000" stroke-width="0.7">2.5 nM</text>
<text x="1072.2" y="1405" text-anchor="middle" font-family="'Liberation Serif','DejaVu Serif',serif" font-weight="700" font-size="40.6" fill="#000" stroke="#000" stroke-width="0.7">5 nM</text>
<text x="749.8" y="1452.0" text-anchor="middle" font-family="'Liberation Serif','DejaVu Serif',serif" font-weight="700" font-size="45.9" fill="#000" stroke="#000" stroke-width="0.7">Concentration</text>
<rect x="1219.5" y="1081.2" width="20" height="20" fill="#9bbb5b"/>
<text transform="translate(1248,1104.8) scale(1,1.035)" font-family="'Liberation Serif','DejaVu Serif',serif" font-weight="700" font-size="40.1" fill="#000" stroke="#000" stroke-width="0.7">G2/M</text>
<rect x="1219.5" y="1143.3" width="20" height="20" fill="#c2504d"/>
<text transform="translate(1248,1164.9) scale(1,1.035)" font-family="'Liberation Serif','DejaVu Serif',serif" font-weight="700" font-size="40.1" fill="#000" stroke="#000" stroke-width="0.7">S</text>
<rect x="1219.5" y="1205" width="20" height="20" fill="#4f81bd"/>
<text transform="translate(1248,1227.4) scale(1,1.035)" font-family="'Liberation Serif','DejaVu Serif',serif" font-weight="700" font-size="40.1" fill="#000" stroke="#000" stroke-width="0.7">G0/G1</text>
</g>
</svg></body></html>
